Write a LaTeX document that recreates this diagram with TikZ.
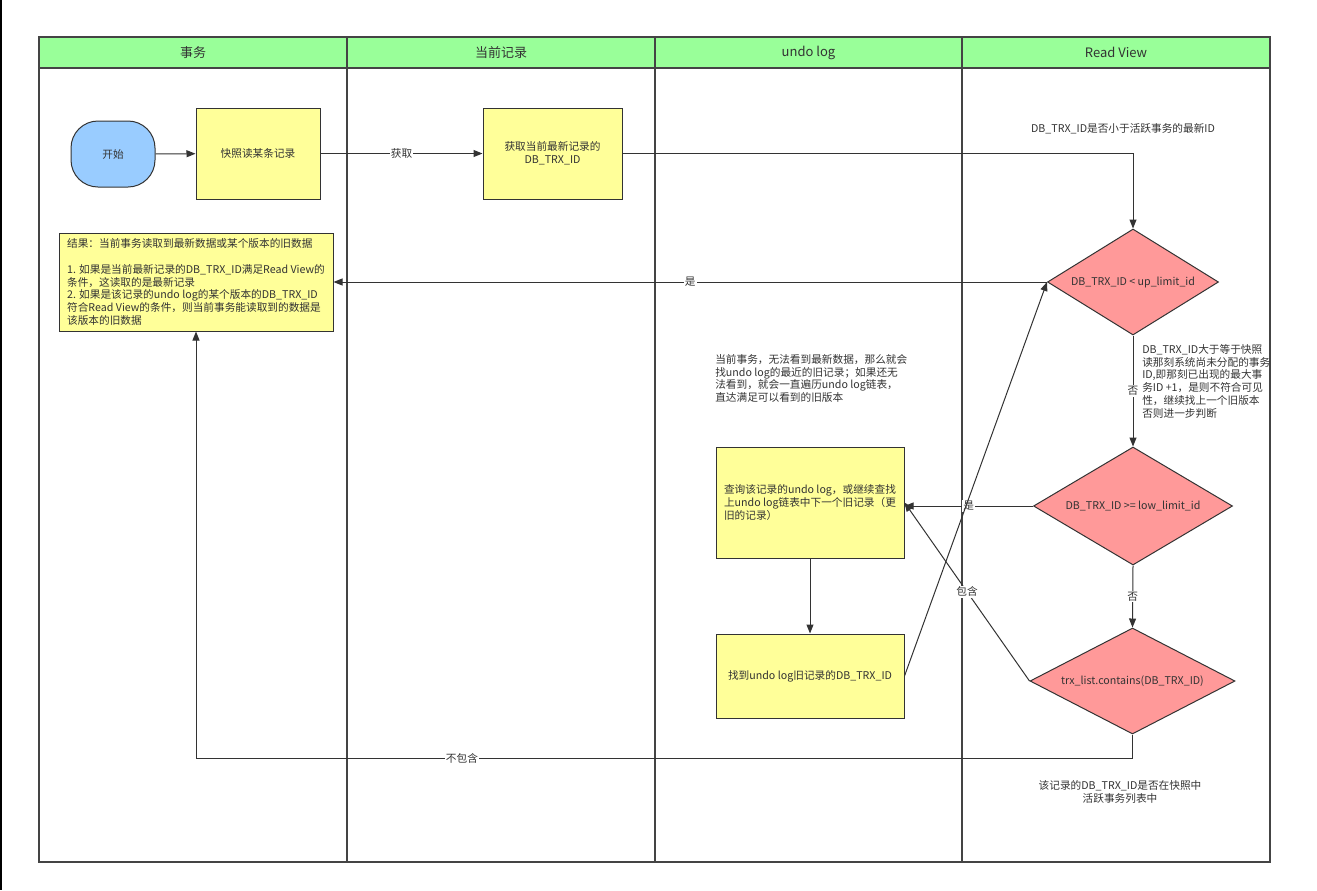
\documentclass[tikz,border=0pt]{standalone}
\usepackage{fontspec}
\setmainfont{Noto Sans CJK SC}
\usetikzlibrary{shapes.geometric,arrows.meta}
\newlength\px
\setlength\px{0.75pt}
\definecolor{lanegreen}{HTML}{99FF99}
\definecolor{procyellow}{HTML}{FFFF99}
\definecolor{decpink}{HTML}{FF9999}
\definecolor{startblue}{HTML}{99CCFF}
\definecolor{linegray}{HTML}{333333}
\definecolor{lanegray}{HTML}{444444}
\definecolor{textgray}{HTML}{333333}
\begin{document}
\begin{tikzpicture}[x=0.75pt, y=-0.75pt, font=\fontsize{8}{9.6}\selectfont, text=textgray,
    lane line/.style={draw=lanegray, line width=1.5\px},
    lane head/.style={rectangle, draw=lanegray, fill=lanegreen, line width=1.5\px, minimum height=31\px, inner sep=0pt, font=\fontsize{9.75}{11}\selectfont},
    proc box/.style={rectangle, draw=linegray, fill=procyellow, line width=1\px, inner sep=0pt},
    start node/.style={rectangle, rounded corners=27\px, draw=linegray, fill=startblue, line width=1\px, inner sep=0pt},
    decision node/.style={diamond, draw=linegray, fill=decpink, line width=1\px, inner sep=0pt},
    note text/.style={align=left, inner sep=0pt},
    flow/.style={draw=linegray, line width=1\px, -{Triangle[length=6.75pt, width=5.25pt]}},
    edge label/.style={fill=white, inner sep=1\px} ]
    \useasboundingbox (0,0) rectangle (1317,890);
    \fill[black] (0,0) rectangle (2,890);
    % swim lanes
    \draw[lane line] (39,68) rectangle (347,862);
    \draw[lane line] (347,68) rectangle (655,862);
    \draw[lane line] (655,68) rectangle (962,862);
    \draw[lane line] (962,68) rectangle (1270,862);
    \node at (193,52.5) [lane head, minimum width=308\px] (lane1) {事务};
    \node at (501,52.5) [lane head, minimum width=308\px] (lane2) {当前记录};
    \node at (808.5,52.5) [lane head, minimum width=307\px] (lane3) {undo log};
    \node at (1116,52.5) [lane head, minimum width=308\px] (lane4) {Read View};
    % nodes
    \node at (113,154) [start node, minimum width=84\px, minimum height=66\px] (start) {开始};
    \node at (258,153.5) [proc box, minimum width=124\px, minimum height=91\px] (snap) {快照读某条记录};
    \node at (552.5,153.5) [proc box, minimum width=139\px, minimum height=91\px, align=center] (latest) {获取当前最新记录的\\DB\_TRX\_ID};
    \node at (196,282) [proc box, minimum width=274\px, minimum height=98\px, align=left] (result) {结果：当前事务读取到最新数据或某个版本的旧数据\\[9.6pt]
      1. 如果是当前最新记录的DB\_TRX\_ID满足Read View的\\
      条件，这读取的是最新记录\\
      2. 如果是该记录的undo log的某个版本的DB\_TRX\_ID\\
      符合Read View的条件，则当前事务能读取到的数据是\\
      该版本的旧数据};
    \node at (1133,282) [decision node, aspect=1.6, minimum width=171\px, minimum height=106\px] (d1) {DB\_TRX\_ID < up\_limit\_id};
    \node at (1133,506) [decision node, aspect=1.7, minimum width=199\px, minimum height=118\px] (d2) {DB\_TRX\_ID >= low\_limit\_id};
    \node at (1132.5,681) [decision node, aspect=1.95, minimum width=205\px, minimum height=106\px] (d3) {trx\_list.contains(DB\_TRX\_ID)};
    \node at (810,502.5) [proc box, minimum width=188\px, minimum height=111\px, align=left] (query) {查询该记录的undo log，或继续查找\\上undo log链表中下一个旧记录（更\\旧的记录）};
    \node at (810,676) [proc box, minimum width=188\px, minimum height=84\px] (found) {找到undo log旧记录的DB\_TRX\_ID};
    % notes
    \node at (1123,129) [inner sep=0pt] (q1) {DB\_TRX\_ID是否小于活跃事务的最新ID};
    \node at (715,354) [note text, anchor=north west] (undonote) {当前事务，无法看到最新数据，那么就会\\找undo log的最近的旧记录；如果还无\\法看到，就会一直遍历undo log链表，\\直达满足可以看到的旧版本};
    \node at (1142,344) [note text, anchor=north west] (d2note) {DB\_TRX\_ID大于等于快照\\读那刻系统尚未分配的事务\\ID,即那刻已出现的最大事\\务ID +1，是则不符合可见\\性，继续找上一个旧版本\\否则进一步判断};
    \node at (1120,792) [align=center, inner sep=0pt] (d3note) {该记录的DB\_TRX\_ID是否在快照中\\活跃事务列表中};
    % connectors
    \draw[flow] (start) -- (snap);
    \draw[flow] (snap) -- node[edge label] {获取} (latest);
    \draw[flow] (latest.east) -| (d1.north);
    \draw[flow] (d1.west) -- node[edge label] {是} (result.east);
    \draw[flow] (d1.south) -- node[edge label] {否} (d2.north);
    \draw[flow] (d2.west) -- node[edge label] {是} (d2.west -| query.east);
    \draw[flow] (d2.south) -- node[edge label] {否} (d3.north);
    \draw[flow] (d3.west) -- node[edge label] {包含} (query.east);
    \draw[flow] (d3.south) -- ++(0,24) -| node[edge label, pos=0.358] {不包含} (result.south);
    \draw[flow] (query) -- (found);
    \draw[flow] (found.east) -- (d1.west);
\end{tikzpicture}
\end{document}
